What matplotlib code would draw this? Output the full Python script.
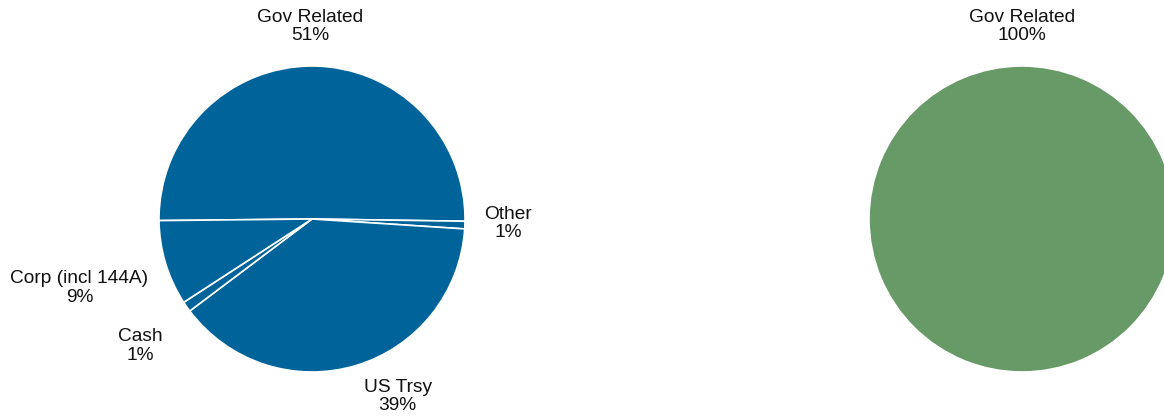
import numpy as np
import matplotlib
matplotlib.use('Agg')
import matplotlib.pyplot as plt

plt.rcParams['font.family'] = ['Liberation Sans', 'DejaVu Sans']

# left pie: sectors, clockwise from the left edge
left_labels = ['Gov Related', 'Other', 'US Trsy', 'Cash', 'Corp (incl 144A)']
left_values = [50.4, 0.8, 38.7, 1.1, 9.0]
left_pct = ['51%', '1%', '39%', '1%', '9%']

# right pie
right_labels = ['Gov Related']
right_values = [100.0]
right_pct = ['100%']

BLUE = '#00639A'
GREEN = '#679A66'

W, H = 1164, 419
R = 153  # pie radius in px

fig = plt.figure(figsize=(W / 100, H / 100), dpi=100)


def pie_axes(cx, cy):
    # cx, cy: pie centre in px, measured from the top left
    return fig.add_axes([(cx - R) / W, (H - cy - R) / H, 2 * R / W, 2 * R / H])


def draw_pie(ax, values, labels, pcts, color, label_xy):
    wedges, _ = ax.pie(values, colors=[color] * len(values), startangle=180.6,
                       counterclock=False, radius=1.0,
                       wedgeprops=dict(edgecolor='white', linewidth=1.2))
    for (x, y), lab, pct in zip(label_xy, labels, pcts):
        ax.text(x, y, f'{lab}\n{pct}', ha='center', va='center', fontsize=13.8,
                linespacing=1.1, color='#111111')
    ax.set_xlim(-1, 1)
    ax.set_ylim(-1, 1)
    ax.set_aspect('equal')
    ax.axis('off')


ax1 = pie_axes(312, 219)
draw_pie(ax1, left_values, left_labels, left_pct, BLUE,
         [(-0.01, 1.26), (1.28, -0.03), (0.56, -1.16), (-1.12, -0.83), (-1.52, -0.45)])

ax2 = pie_axes(1022, 219)
draw_pie(ax2, right_values, right_labels, right_pct, GREEN, [(0.0, 1.26)])

fig.savefig('out.png', dpi=100)
